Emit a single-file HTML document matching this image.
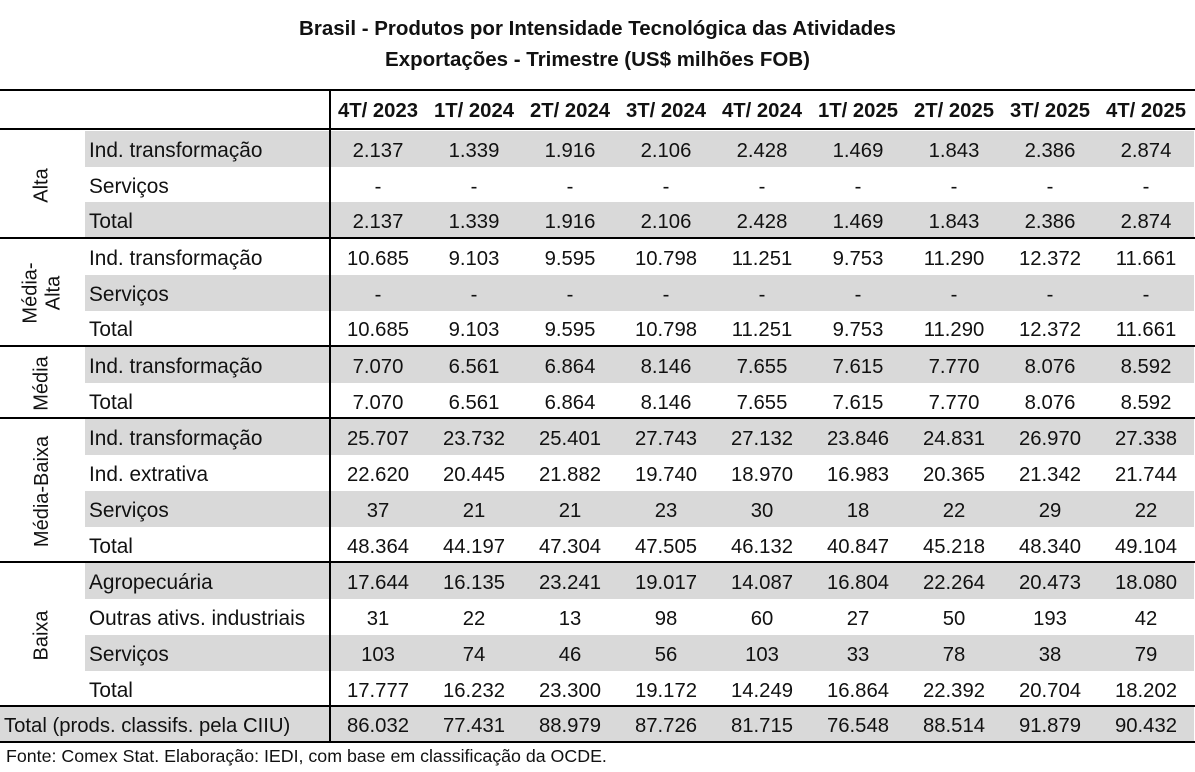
<!DOCTYPE html>
<html><head><meta charset="utf-8"><style>
body{margin:0;width:1195px;height:772px;background:#fff;position:relative;font-family:"Liberation Sans",sans-serif;color:#111;overflow:hidden}
.t{position:absolute;left:0;width:1195px;text-align:center;font-weight:bold;font-size:20.5px}
.r{position:absolute;left:85px;width:1109px;height:36px;display:flex;font-size:20.3px;line-height:36px}
.r>div{position:relative;top:2px}
.g{background:#d9d9d9}
.l{width:245px;padding-left:4px;box-sizing:border-box;white-space:nowrap;font-size:20.8px}
.c{width:96px;text-align:center}
.h{position:absolute;left:0;width:1195px;height:2px;background:#000}
.v{position:absolute;left:329px;width:2px;background:#000;top:90px;height:652px}
.grp{position:absolute;left:0;width:85px;display:flex;align-items:center;justify-content:center}
.grp span{transform:rotate(-90deg);font-size:20px;white-space:nowrap;text-align:center;line-height:23px}
</style></head><body>
<div class="t" style="top:17px">Brasil - Produtos por Intensidade Tecnológica das Atividades</div>
<div class="t" style="top:48px">Exportações - Trimestre (US$ milhões FOB)</div>

<div class="r" style="top:91px;height:37px;line-height:37px;font-weight:bold"><div class="l"></div><div class="c">4T/ 2023</div><div class="c">1T/ 2024</div><div class="c">2T/ 2024</div><div class="c">3T/ 2024</div><div class="c">4T/ 2024</div><div class="c">1T/ 2025</div><div class="c">2T/ 2025</div><div class="c">3T/ 2025</div><div class="c">4T/ 2025</div></div>

<div class="r g" style="top:131px"><div class="l">Ind. transformação</div><div class="c">2.137</div><div class="c">1.339</div><div class="c">1.916</div><div class="c">2.106</div><div class="c">2.428</div><div class="c">1.469</div><div class="c">1.843</div><div class="c">2.386</div><div class="c">2.874</div></div>
<div class="r" style="top:167px"><div class="l">Serviços</div><div class="c">-</div><div class="c">-</div><div class="c">-</div><div class="c">-</div><div class="c">-</div><div class="c">-</div><div class="c">-</div><div class="c">-</div><div class="c">-</div></div>
<div class="r g" style="top:202px"><div class="l">Total</div><div class="c">2.137</div><div class="c">1.339</div><div class="c">1.916</div><div class="c">2.106</div><div class="c">2.428</div><div class="c">1.469</div><div class="c">1.843</div><div class="c">2.386</div><div class="c">2.874</div></div>

<div class="r" style="top:239px"><div class="l">Ind. transformação</div><div class="c">10.685</div><div class="c">9.103</div><div class="c">9.595</div><div class="c">10.798</div><div class="c">11.251</div><div class="c">9.753</div><div class="c">11.290</div><div class="c">12.372</div><div class="c">11.661</div></div>
<div class="r g" style="top:275px"><div class="l">Serviços</div><div class="c">-</div><div class="c">-</div><div class="c">-</div><div class="c">-</div><div class="c">-</div><div class="c">-</div><div class="c">-</div><div class="c">-</div><div class="c">-</div></div>
<div class="r" style="top:310px"><div class="l">Total</div><div class="c">10.685</div><div class="c">9.103</div><div class="c">9.595</div><div class="c">10.798</div><div class="c">11.251</div><div class="c">9.753</div><div class="c">11.290</div><div class="c">12.372</div><div class="c">11.661</div></div>

<div class="r g" style="top:347px"><div class="l">Ind. transformação</div><div class="c">7.070</div><div class="c">6.561</div><div class="c">6.864</div><div class="c">8.146</div><div class="c">7.655</div><div class="c">7.615</div><div class="c">7.770</div><div class="c">8.076</div><div class="c">8.592</div></div>
<div class="r" style="top:383px"><div class="l">Total</div><div class="c">7.070</div><div class="c">6.561</div><div class="c">6.864</div><div class="c">8.146</div><div class="c">7.655</div><div class="c">7.615</div><div class="c">7.770</div><div class="c">8.076</div><div class="c">8.592</div></div>

<div class="r g" style="top:419px"><div class="l">Ind. transformação</div><div class="c">25.707</div><div class="c">23.732</div><div class="c">25.401</div><div class="c">27.743</div><div class="c">27.132</div><div class="c">23.846</div><div class="c">24.831</div><div class="c">26.970</div><div class="c">27.338</div></div>
<div class="r" style="top:455px"><div class="l">Ind. extrativa</div><div class="c">22.620</div><div class="c">20.445</div><div class="c">21.882</div><div class="c">19.740</div><div class="c">18.970</div><div class="c">16.983</div><div class="c">20.365</div><div class="c">21.342</div><div class="c">21.744</div></div>
<div class="r g" style="top:491px"><div class="l">Serviços</div><div class="c">37</div><div class="c">21</div><div class="c">21</div><div class="c">23</div><div class="c">30</div><div class="c">18</div><div class="c">22</div><div class="c">29</div><div class="c">22</div></div>
<div class="r" style="top:527px"><div class="l">Total</div><div class="c">48.364</div><div class="c">44.197</div><div class="c">47.304</div><div class="c">47.505</div><div class="c">46.132</div><div class="c">40.847</div><div class="c">45.218</div><div class="c">48.340</div><div class="c">49.104</div></div>

<div class="r g" style="top:563px"><div class="l">Agropecuária</div><div class="c">17.644</div><div class="c">16.135</div><div class="c">23.241</div><div class="c">19.017</div><div class="c">14.087</div><div class="c">16.804</div><div class="c">22.264</div><div class="c">20.473</div><div class="c">18.080</div></div>
<div class="r" style="top:599px"><div class="l">Outras ativs. industriais</div><div class="c">31</div><div class="c">22</div><div class="c">13</div><div class="c">98</div><div class="c">60</div><div class="c">27</div><div class="c">50</div><div class="c">193</div><div class="c">42</div></div>
<div class="r g" style="top:635px"><div class="l">Serviços</div><div class="c">103</div><div class="c">74</div><div class="c">46</div><div class="c">56</div><div class="c">103</div><div class="c">33</div><div class="c">78</div><div class="c">38</div><div class="c">79</div></div>
<div class="r" style="top:671px"><div class="l">Total</div><div class="c">17.777</div><div class="c">16.232</div><div class="c">23.300</div><div class="c">19.172</div><div class="c">14.249</div><div class="c">16.864</div><div class="c">22.392</div><div class="c">20.704</div><div class="c">18.202</div></div>

<div class="r g" style="top:706px;left:0;width:1194px"><div class="l" style="width:330px;font-size:20.3px">Total (prods. classifs. pela CIIU)</div><div class="c">86.032</div><div class="c">77.431</div><div class="c">88.979</div><div class="c">87.726</div><div class="c">81.715</div><div class="c">76.548</div><div class="c">88.514</div><div class="c">91.879</div><div class="c">90.432</div></div>

<div class="grp" style="top:131px;height:108px"><span>Alta</span></div>
<div class="grp" style="top:239px;height:108px"><span>Média-<br>Alta</span></div>
<div class="grp" style="top:347px;height:72px"><span>Média</span></div>
<div class="grp" style="top:419px;height:144px"><span>Média-Baixa</span></div>
<div class="grp" style="top:563px;height:144px"><span>Baixa</span></div>

<div class="h" style="top:89px"></div>
<div class="h" style="top:128px"></div>
<div class="h" style="top:237px"></div>
<div class="h" style="top:345px"></div>
<div class="h" style="top:417px"></div>
<div class="h" style="top:561px"></div>
<div class="h" style="top:705px"></div>
<div class="h" style="top:741px"></div>
<div class="v"></div>

<div style="position:absolute;left:6px;top:746px;font-size:17.8px">Fonte: Comex Stat. Elaboração: IEDI, com base em classificação da OCDE.</div>
</body></html>
